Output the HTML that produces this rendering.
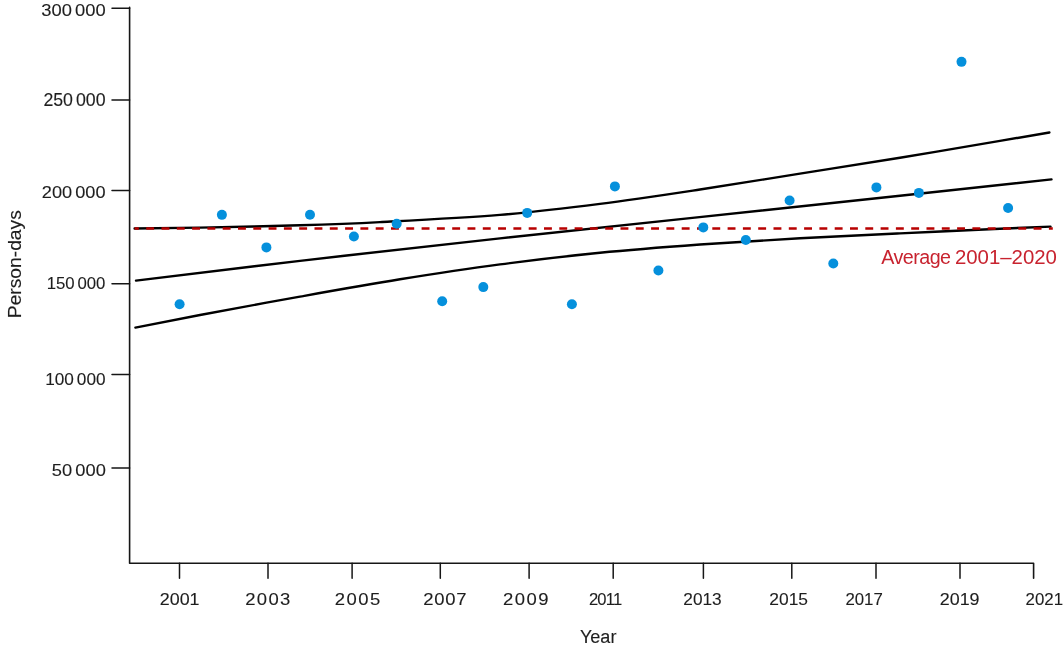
<!DOCTYPE html>
<html><head><meta charset="utf-8"><title>Person-days chart</title>
<style>
html,body{margin:0;padding:0;background:#fff;width:1064px;height:650px;overflow:hidden}
svg{display:block;will-change:transform}
text{font-family:"Liberation Sans",sans-serif}
.t{font-size:17.5px;fill:#1e1e1e;stroke:#1e1e1e;stroke-width:0.12px}
.t2{font-size:18px;fill:#1e1e1e;stroke:#1e1e1e;stroke-width:0.12px}
.t3{font-size:19px;fill:#c8232f}
</style></head><body>
<svg width="1064" height="650" viewBox="0 0 1064 650">
<path d="M129.6,7.4 V563.2 H1033.6 V578.2" fill="none" stroke="#161616" stroke-width="1.6" stroke-linejoin="round" stroke-linecap="round"/>
<line x1="112" y1="8.3" x2="129.6" y2="8.3" stroke="#161616" stroke-width="1.5" stroke-linecap="round"/>
<line x1="112" y1="100.0" x2="129.6" y2="100.0" stroke="#161616" stroke-width="1.5" stroke-linecap="round"/>
<line x1="112" y1="190.4" x2="129.6" y2="190.4" stroke="#161616" stroke-width="1.5" stroke-linecap="round"/>
<line x1="112" y1="283.85" x2="129.6" y2="283.85" stroke="#161616" stroke-width="1.5" stroke-linecap="round"/>
<line x1="112" y1="374.5" x2="129.6" y2="374.5" stroke="#161616" stroke-width="1.5" stroke-linecap="round"/>
<line x1="112" y1="467.9" x2="129.6" y2="467.9" stroke="#161616" stroke-width="1.5" stroke-linecap="round"/>
<line x1="179.5" y1="563.2" x2="179.5" y2="578.2" stroke="#161616" stroke-width="1.5" stroke-linecap="round"/>
<line x1="268.0" y1="563.2" x2="268.0" y2="578.2" stroke="#161616" stroke-width="1.5" stroke-linecap="round"/>
<line x1="352.1" y1="563.2" x2="352.1" y2="578.2" stroke="#161616" stroke-width="1.5" stroke-linecap="round"/>
<line x1="440.3" y1="563.2" x2="440.3" y2="578.2" stroke="#161616" stroke-width="1.5" stroke-linecap="round"/>
<line x1="529.1" y1="563.2" x2="529.1" y2="578.2" stroke="#161616" stroke-width="1.5" stroke-linecap="round"/>
<line x1="613.2" y1="563.2" x2="613.2" y2="578.2" stroke="#161616" stroke-width="1.5" stroke-linecap="round"/>
<line x1="703.4" y1="563.2" x2="703.4" y2="578.2" stroke="#161616" stroke-width="1.5" stroke-linecap="round"/>
<line x1="791.8" y1="563.2" x2="791.8" y2="578.2" stroke="#161616" stroke-width="1.5" stroke-linecap="round"/>
<line x1="876.0" y1="563.2" x2="876.0" y2="578.2" stroke="#161616" stroke-width="1.5" stroke-linecap="round"/>
<line x1="960.0" y1="563.2" x2="960.0" y2="578.2" stroke="#161616" stroke-width="1.5" stroke-linecap="round"/>
<path d="M134.60,228.50 C145.50,228.35 172.43,228.13 200.00,227.60 C227.57,227.07 270.00,226.22 300.00,225.30 C330.00,224.38 346.67,223.83 380.00,222.10 C413.33,220.37 463.33,217.93 500.00,214.90 C536.67,211.87 566.67,208.13 600.00,203.90 C633.33,199.67 666.67,194.55 700.00,189.50 C733.33,184.45 766.67,178.90 800.00,173.60 C833.33,168.30 866.67,163.15 900.00,157.70 C933.33,152.25 975.10,145.10 1000.00,140.90 C1024.90,136.70 1041.17,133.90 1049.40,132.50" fill="none" stroke="#000" stroke-width="2.4" stroke-linecap="round"/>
<path d="M136.00,280.60 C163.33,277.32 239.33,267.93 300.00,260.90 C360.67,253.87 400.00,249.25 500.00,238.40 C600.00,227.55 808.08,205.63 900.00,195.80 C991.92,185.97 1026.25,182.13 1051.50,179.40" fill="none" stroke="#000" stroke-width="2.4" stroke-linecap="round"/>
<path d="M135.40,327.60 C146.17,325.50 172.57,320.17 200.00,315.00 C227.43,309.83 266.67,302.55 300.00,296.60 C333.33,290.65 366.67,284.67 400.00,279.30 C433.33,273.93 466.67,268.82 500.00,264.40 C533.33,259.98 566.67,256.11 600.00,252.80 C633.33,249.49 666.67,246.98 700.00,244.55 C733.33,242.12 766.67,240.06 800.00,238.20 C833.33,236.34 866.67,234.98 900.00,233.40 C933.33,231.82 974.92,229.83 1000.00,228.70 C1025.08,227.57 1042.08,226.95 1050.50,226.60" fill="none" stroke="#000" stroke-width="2.4" stroke-linecap="round"/>
<line x1="134.6" y1="228.5" x2="1052.8" y2="228.5" stroke="#b80000" stroke-width="2.6" stroke-dasharray="7.9 7.4" stroke-dashoffset="3.7"/>
<circle cx="179.6" cy="304.2" r="5.0" fill="#0590dc"/>
<circle cx="221.9" cy="214.85" r="5.0" fill="#0590dc"/>
<circle cx="266.4" cy="247.4" r="5.0" fill="#0590dc"/>
<circle cx="310.0" cy="214.8" r="5.0" fill="#0590dc"/>
<circle cx="353.9" cy="236.5" r="5.0" fill="#0590dc"/>
<circle cx="396.7" cy="223.7" r="5.0" fill="#0590dc"/>
<circle cx="442.2" cy="301.2" r="5.0" fill="#0590dc"/>
<circle cx="483.3" cy="287.1" r="5.0" fill="#0590dc"/>
<circle cx="527.2" cy="212.9" r="5.0" fill="#0590dc"/>
<circle cx="571.9" cy="304.2" r="5.0" fill="#0590dc"/>
<circle cx="614.9" cy="186.4" r="5.0" fill="#0590dc"/>
<circle cx="658.4" cy="270.5" r="5.0" fill="#0590dc"/>
<circle cx="703.3" cy="227.4" r="5.0" fill="#0590dc"/>
<circle cx="745.8" cy="240.0" r="5.0" fill="#0590dc"/>
<circle cx="789.6" cy="200.5" r="5.0" fill="#0590dc"/>
<circle cx="833.3" cy="263.5" r="5.0" fill="#0590dc"/>
<circle cx="876.4" cy="187.4" r="5.0" fill="#0590dc"/>
<circle cx="918.9" cy="192.9" r="5.0" fill="#0590dc"/>
<circle cx="961.5" cy="61.85" r="5.0" fill="#0590dc"/>
<circle cx="1008.1" cy="208.0" r="5.0" fill="#0590dc"/>
<g transform="translate(42.30,2.90) scale(1.0500,0.9923) translate(-201,-287) translate(200,300)"><text x="0" y="0" class="t">300<tspan dx="3">000</tspan></text></g>
<g transform="translate(44.40,93.30) scale(1.0133,1.0000) translate(-201,-287) translate(200,300)"><text x="0" y="0" class="t">250<tspan dx="3">000</tspan></text></g>
<g transform="translate(42.90,185.70) scale(1.0383,0.9769) translate(-201,-287) translate(200,300)"><text x="0" y="0" class="t">200<tspan dx="3">000</tspan></text></g>
<g transform="translate(47.70,276.15) scale(0.9588,0.9885) translate(-201,-287) translate(200,300)"><text x="0" y="0" class="t" letter-spacing="-0.048">150<tspan dx="3">000</tspan></text></g>
<g transform="translate(46.15,372.60) scale(0.9842,0.9615) translate(-201,-287) translate(200,300)"><text x="0" y="0" class="t">100<tspan dx="3">000</tspan></text></g>
<g transform="translate(52.90,463.10) scale(1.0460,0.9923) translate(-201,-287) translate(200,300)"><text x="0" y="0" class="t">50<tspan dx="3">000</tspan></text></g>
<g transform="translate(160.80,592.60) scale(1.0216,0.9769) translate(-201,-287) translate(200,300)"><text x="0" y="0" class="t">2001</text></g>
<g transform="translate(246.30,592.60) scale(1.0551,0.9769) translate(-201,-287) translate(200,300)"><text x="0" y="0" class="t" letter-spacing="1.252">2003</text></g>
<g transform="translate(335.80,592.60) scale(1.0551,0.9769) translate(-201,-287) translate(200,300)"><text x="0" y="0" class="t" letter-spacing="1.378">2005</text></g>
<g transform="translate(424.20,592.60) scale(1.0551,0.9769) translate(-201,-287) translate(200,300)"><text x="0" y="0" class="t" letter-spacing="0.715">2007</text></g>
<g transform="translate(504.10,592.60) scale(1.0551,0.9769) translate(-201,-287) translate(200,300)"><text x="0" y="0" class="t" letter-spacing="1.378">2009</text></g>
<g transform="translate(589.90,592.60) scale(0.9476,0.9769) translate(-201,-287) translate(200,300)"><text x="0" y="0" class="t" letter-spacing="-0.849">2011</text></g>
<g transform="translate(684.30,592.60) scale(0.9865,0.9769) translate(-201,-287) translate(200,300)"><text x="0" y="0" class="t">2013</text></g>
<g transform="translate(770.30,592.60) scale(0.9946,0.9769) translate(-201,-287) translate(200,300)"><text x="0" y="0" class="t">2015</text></g>
<g transform="translate(846.35,592.60) scale(0.9608,0.9769) translate(-201,-287) translate(200,300)"><text x="0" y="0" class="t">2017</text></g>
<g transform="translate(940.80,592.60) scale(1.0216,0.9769) translate(-201,-287) translate(200,300)"><text x="0" y="0" class="t">2019</text></g>
<g transform="translate(1026.50,592.60) scale(0.9635,0.9769) translate(-201,-287) translate(200,300)"><text x="0" y="0" class="t">2021</text></g>
<g transform="translate(579.90,629.90) scale(1.0054,1.0154) translate(-200,-287) translate(200,300)"><text x="0" y="0" class="t2">Year</text></g>
<g transform="translate(7.20,317.10) scale(1.0400,1.0695) translate(-287,-299) translate(300,300) rotate(-90)"><text x="0" y="0" class="t2">Person-days</text></g>
<g transform="translate(881.30,249.70) scale(1.0379,1.0700) translate(-200,-287) translate(200,300)"><text x="0" y="0" class="t3" letter-spacing="-0.538">Average</text></g>
<g transform="translate(955.95,249.60) scale(1.0739,1.0923) translate(-201,-287) translate(200,300)"><text x="0" y="0" class="t3">2001–2020</text></g>
</svg>
</body></html>
